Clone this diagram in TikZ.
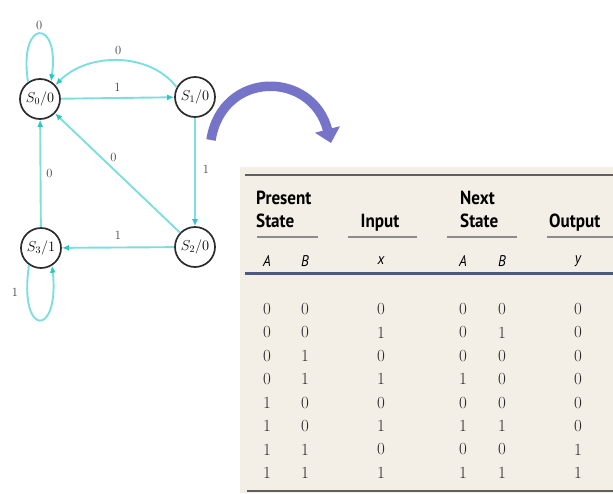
\documentclass[tikz,border=0pt]{standalone}
\usepackage{fontspec}
\newfontfamily\hdfont[FakeStretch=0.9]{PT Sans}
\usetikzlibrary{arrows.meta}
\definecolor{edgecyan}{RGB}{125,222,224}
\definecolor{tipcyan}{RGB}{40,200,195}
\definecolor{ringgray}{RGB}{45,45,45}
\definecolor{bigarrow}{RGB}{118,116,200}
\definecolor{tablebg}{RGB}{243,239,230}
\definecolor{rulegray}{RGB}{95,95,95}
\definecolor{subgray}{RGB}{140,140,140}
\definecolor{ruleblue}{RGB}{75,88,130}
\tikzset{
  fsm/.style={circle, draw=ringgray, line width=1.7pt, minimum size=40pt,
    inner sep=0pt, fill=white, font=\fontsize{14}{16}\selectfont},
  trans/.style={draw=edgecyan, line width=1.9pt,
    -{Latex[length=7pt,width=6pt,color=tipcyan]}},
  lbl/.style={font=\fontsize{12.5}{14}\selectfont, text=black!75, inner sep=1pt},
  hd/.style={font=\hdfont\bfseries\fontsize{19}{21}\selectfont, inner sep=0pt},
  colhd/.style={font=\hdfont\itshape\fontsize{15.5}{17}\selectfont, inner sep=0pt},
  cell/.style={font=\fontsize{17}{19}\selectfont, inner sep=0pt, text=black!85},
}
\begin{document}
\begin{tikzpicture}[x=1pt,y=-1pt]
\useasboundingbox (0,0) rectangle (613,493);

% ---------- state diagram ----------
\node[fsm] (s0) at (40,99)  {$S_0/0$};
\node[fsm] (s1) at (195,97) {$S_1/0$};
\node[fsm] (s2) at (195,247) {$S_2/0$};
\node[fsm] (s3) at (41,248) {$S_3/1$};

% self loops
\draw[trans] (s0.125) .. controls (18,18) and (60,18) .. (s0.58)
  node[lbl, pos=0.5, above=2pt] (l00) {0};
\draw[trans] (s3.235) .. controls (18,338) and (60,338) .. (s3.-58);
\node[lbl] (l33) at (15,292) {1};

% transitions
\draw[trans] (s0) -- (s1) node[lbl, pos=0.5, above=5pt] (l01) {1};
\draw[trans] (s1.152) .. controls (150,52) and (88,52) .. (s0.42)
  node[lbl, pos=0.5, above=4pt] (l10) {0};
\draw[trans] (s1) -- (s2) node[lbl, pos=0.48, right=6pt] (l12) {1};
\draw[trans] (s2) -- (s0) node[lbl, pos=0.5, shift={(-4,-16)}] (l20) {0};
\draw[trans] (s2) -- (s3) node[lbl, pos=0.5, above=6pt] (l23) {1};
\draw[trans] (s3) -- (s0) node[lbl, pos=0.5, right=4pt] (l30) {0};

% ---------- curved pointer to the table ----------
\coordinate (arrFrom) at (211,140);
\coordinate (arrTo) at (331,143);
\draw[line width=9.5pt, draw=bigarrow,
  -{Triangle[width=25pt,length=14pt,color=bigarrow]}]
  (arrFrom) .. controls (222,70) and (312,70) .. (arrTo);

% ---------- state table ----------
\fill[tablebg] (240,167) rectangle (613,493);
\draw[rulegray, line width=2.6pt] (245,175) -- (613,175);

\node[hd, anchor=base west] (hPresent) at (256,204) {Present};
\node[hd, anchor=base west] (hState1) at (256,227) {State};
\node[hd, anchor=base] (hInput) at (380,227) {Input};
\node[hd, anchor=base west] (hNext) at (460,204) {Next};
\node[hd, anchor=base west] (hState2) at (460,227) {State};
\node[hd, anchor=base west] (hOutput) at (549,227) {Output};

\draw[subgray, line width=1.8pt] (257,237) -- (318,237);
\draw[subgray, line width=1.8pt] (348,237) -- (417,237);
\draw[subgray, line width=1.8pt] (447,237) -- (517,237);
\draw[subgray, line width=1.8pt] (547,237) -- (613,237);

\def\colxs{{267,305,381,463,502,578}}
\foreach \t [count=\c] in {A,B,x,A,B,y} {
  \pgfmathsetmacro\cx{\colxs[\c-1]}
  \node[colhd] (col\c) at (\cx,261) {\t};
}
\draw[ruleblue, line width=3pt] (245,273) -- (613,273);

\foreach \row [count=\r] in {{0,0,0,0,0,0},{0,0,1,0,1,0},{0,1,0,0,0,0},
    {0,1,1,1,0,0},{1,0,0,0,0,0},{1,0,1,1,1,0},{1,1,0,0,0,1},{1,1,1,1,1,1}} {
  \foreach \v [count=\c] in \row {
    \pgfmathsetmacro\cx{\colxs[\c-1]}
    \pgfmathsetmacro\cy{309+23.4*(\r-1)}
    \node[cell] (cell\r-\c) at (\cx,\cy) {\v};
  }
}
\draw[rulegray, line width=2.6pt] (247,491) -- (613,491);
\end{tikzpicture}
\end{document}
